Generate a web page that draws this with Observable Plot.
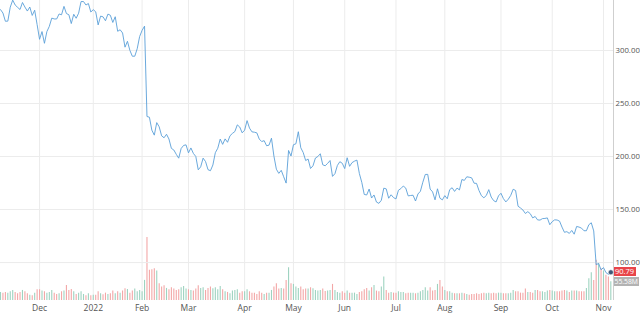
<!DOCTYPE html>
<html>
<head>
<meta charset="utf-8">
<script src="https://cdn.jsdelivr.net/npm/d3@7"></script>
<script src="https://cdn.jsdelivr.net/npm/@observablehq/plot@0.6"></script>
<style>
  html, body { margin: 0; padding: 0; background: #fff; }
  #wrap { position: relative; width: 640px; height: 316px; font-family: "Open Sans", sans-serif; overflow: hidden; }
  #wrap svg { position: absolute; left: 0; top: 0; }
  .tag { position: absolute; font-size: 7.5px; line-height: 9px; height: 9px; padding: 0 1.5px; white-space: nowrap; font-family: "Open Sans", sans-serif; }
  .tag.vol { font-size: 6.8px; padding: 0 1px; }
</style>
</head>
<body>
<div id="wrap"></div>
<script>
// Daily closing prices, one per trading day (Nov 8 2021 .. Nov 4 2022)
const closeNov21 = [338.62,335.37,327.64,327.74,340.89,347.56,342.96,340.77,338.69,345.30,341.01,337.25,341.06,333.12,338.03,324.46];
const closeDec21 = [310.60,317.87,306.84,317.87,322.81,330.56,329.82,329.75,334.49,333.74,341.66,334.90,333.79,325.45,334.20,330.45,335.24,346.18,346.22,342.94,344.36,336.35];
const closeJan22 = [338.54,336.53,324.17,332.46,331.79,328.07,334.37,333.26,326.48,331.90,318.15,319.59,316.56,303.17,308.71,300.15,294.63,294.64,301.71,313.26];
const closeFeb22 = [319.00,323.00,237.76,237.09,224.91,220.18,232.00,228.07,219.55,217.70,221.00,216.54,207.71,206.16,202.08,198.45,207.60,210.48,211.03];
const closeMar22 = [203.49,208.11,202.97,200.06,187.47,190.29,198.50,195.21,187.61,186.63,192.03,203.63,207.84,216.49,211.49,216.65,213.46,219.57,221.82,223.59,229.86,227.85,222.36];
const closeApr22 = [224.85,233.89,226.82,223.30,222.95,222.33,216.46,214.14,214.99,210.18,210.77,217.31,200.42,188.07,184.11,186.99,180.95,174.95,205.73,200.47];
const closeMay22 = [211.13,212.03,223.41,208.28,203.77,196.21,197.65,188.74,191.24,198.62,200.04,202.62,192.24,191.29,193.54,196.23,181.28,183.83,191.63,195.13,193.64];
const closeJun22 = [188.64,198.86,190.78,194.25,195.65,196.64,184.00,175.57,164.26,163.73,169.35,160.87,163.74,157.05,155.85,158.75,170.16,169.49,160.68,163.94,161.25];
const closeJul22 = [160.03,168.19,169.77,172.19,170.25,162.88,163.27,163.49,158.05,164.70,167.23,175.78,183.09,183.17,169.27,166.65,159.15,169.58,160.72,159.10];
const closeAug22 = [163.12,160.19,168.80,170.57,167.11,170.25,168.53,178.34,177.49,180.89,180.50,179.89,174.85,174.66,167.96,163.05,161.11,163.26,168.78,161.78,158.43,157.16,162.93];
const closeSep22 = [165.36,160.32,157.20,159.73,163.32,169.15,167.96,153.13,151.47,149.55,146.29,148.02,146.09,142.12,143.48,140.25,140.04,141.44,141.61,142.12,135.68];
const closeOct22 = [138.61,140.28,140.13,139.07,133.45,128.54,129.15,127.50,130.29,126.76,134.04,133.46,132.45,130.01,130.01,135.68,137.51,129.82,97.94,99.20,93.16];
const closeNov22 = [95.20,90.54,88.91,90.79];

// Daily volume in millions
const volNov21 = [24,22,24,22,26,30,24,20,24,30,26,20,16,14,22,32];
const volDec21 = [32,28,26,22,24,30,22,18,20,26,28,45,30,33,26,18,22,26,18,14,20,14];
const volJan22 = [16,16,26,20,17,22,18,20,28,20,26,22,28,35,33,22,28,34,26,30];
const volFeb22 = [26,60,188,90,92,95,88,50,40,44,36,32,38,34,30,32,38,42,34];
const volMar22 = [32,30,28,34,44,36,38,30,36,40,35,38,32,42,32,26,24,20,28,30,32,22,26];
const volApr22 = [26,32,26,22,22,18,26,22,18,22,22,30,40,50,34,36,34,60,98,50];
const volMay22 = [48,40,36,40,32,34,34,38,35,30,28,30,34,27,28,30,48,30,24,22,26];
const volJun22 = [22,28,22,22,22,18,24,26,32,36,28,38,45,28,26,40,70,30,22,24,22];
const volJul22 = [22,26,24,24,20,22,22,22,20,22,26,30,38,28,38,28,30,48,60,40];
const volAug22 = [30,26,26,22,20,20,20,22,20,18,16,18,18,20,18,20,22,20,22,20,22,20,22];
const volSep22 = [22,20,20,20,22,30,26,26,22,22,34,24,24,22,30,30,26,26,24,28,30];
const volOct22 = [28,26,26,26,28,30,28,24,28,28,28,26,26,26,36,65,83,60,120,110,95];
const volNov22 = [88,75,70,55.58];

// Month tick labels and the trading-day index where each month starts
const monthLabels = ["Dec","2022","Feb","Mar","Apr","May","Jun","Jul","Aug","Sep","Oct","Nov"];
const monthStart  = [16, 38, 58, 77, 100, 120, 141, 162, 182, 205, 226, 247];
const priceTicks  = [100, 150, 200, 250, 300];

const close = [].concat(closeNov21, closeDec21, closeJan22, closeFeb22, closeMar22, closeApr22,
  closeMay22, closeJun22, closeJul22, closeAug22, closeSep22, closeOct22, closeNov22);
const vol = [].concat(volNov21, volDec21, volJan22, volFeb22, volMar22, volApr22,
  volMay22, volJun22, volJul22, volAug22, volSep22, volOct22, volNov22);

const days = close.map((c, i) => ({i, close: c, vol: vol[i], up: i === 0 ? true : c >= close[i - 1]}));
const last = days[days.length - 1];

const W = 640, H = 316;
const common = {
  width: W, height: H, marginLeft: 0, marginRight: 27, marginTop: 0, marginBottom: 16,
  x: {type: "linear", domain: [0, 251.1], axis: null}
};

// Volume layer (bottom)
const volPlot = Plot.plot({
  ...common,
  y: {domain: [0, 895], axis: null},
  marks: [
    Plot.gridX(monthStart, {stroke: "#ececec", strokeOpacity: 1}),
    Plot.ruleX(days, {x: "i", y1: 0, y2: "vol", stroke: d => d.up ? "#9ed3c0" : "#f3a7a7", strokeWidth: 1.1})
  ]
});

// Price layer (top)
const pricePlot = Plot.plot({
  ...common,
  style: {background: "transparent", fontFamily: "Open Sans, sans-serif"},
  y: {domain: [64.2, 347.2], axis: null},
  marks: [
    Plot.gridY(priceTicks, {stroke: "#ececec", strokeOpacity: 1}),
    Plot.axisY(priceTicks, {anchor: "right", label: null, tickSize: 0, tickPadding: 2, fontSize: 7.8, fill: "#555",
      tickFormat: d => d.toFixed(2), textAnchor: "start"}),
    Plot.axisX(monthStart, {anchor: "bottom", label: null, tickSize: 0, tickPadding: 4, fontSize: 8.5, fill: "#555",
      tickFormat: d => monthLabels[monthStart.indexOf(d)]}),
    Plot.ruleX([251.1], {stroke: "#cfcfcf", strokeWidth: 1}),
    Plot.lineY(days, {x: "i", y: "close", stroke: "#5a9fd8", strokeWidth: 0.9}),
    Plot.dot([last], {x: "i", y: "close", r: 2.5, fill: "#3e5878", stroke: "#fff", strokeWidth: 0.5})
  ]
});

const wrap = document.getElementById("wrap");
wrap.appendChild(volPlot);
wrap.appendChild(pricePlot);

// last-value tags placed with the plots' own scales
const xs = pricePlot.scale("x"), ys = pricePlot.scale("y");
const tagX = xs.apply(251.1) + 0.5;
const pTop = ys.apply(last.close) - 4.5;
const p = document.createElement("div");
p.className = "tag";
p.textContent = last.close.toFixed(2);
p.style.cssText = `left:${tagX}px; top:${pTop}px; background:#e8454a; color:#fff;`;
wrap.appendChild(p);
const v = document.createElement("div");
v.className = "tag vol";
v.textContent = last.vol.toFixed(2) + "M";
v.style.cssText = `left:${tagX}px; top:${pTop + 10}px; background:#b3b3b3; color:#fff;`;
wrap.appendChild(v);
</script>
</body>
</html>
